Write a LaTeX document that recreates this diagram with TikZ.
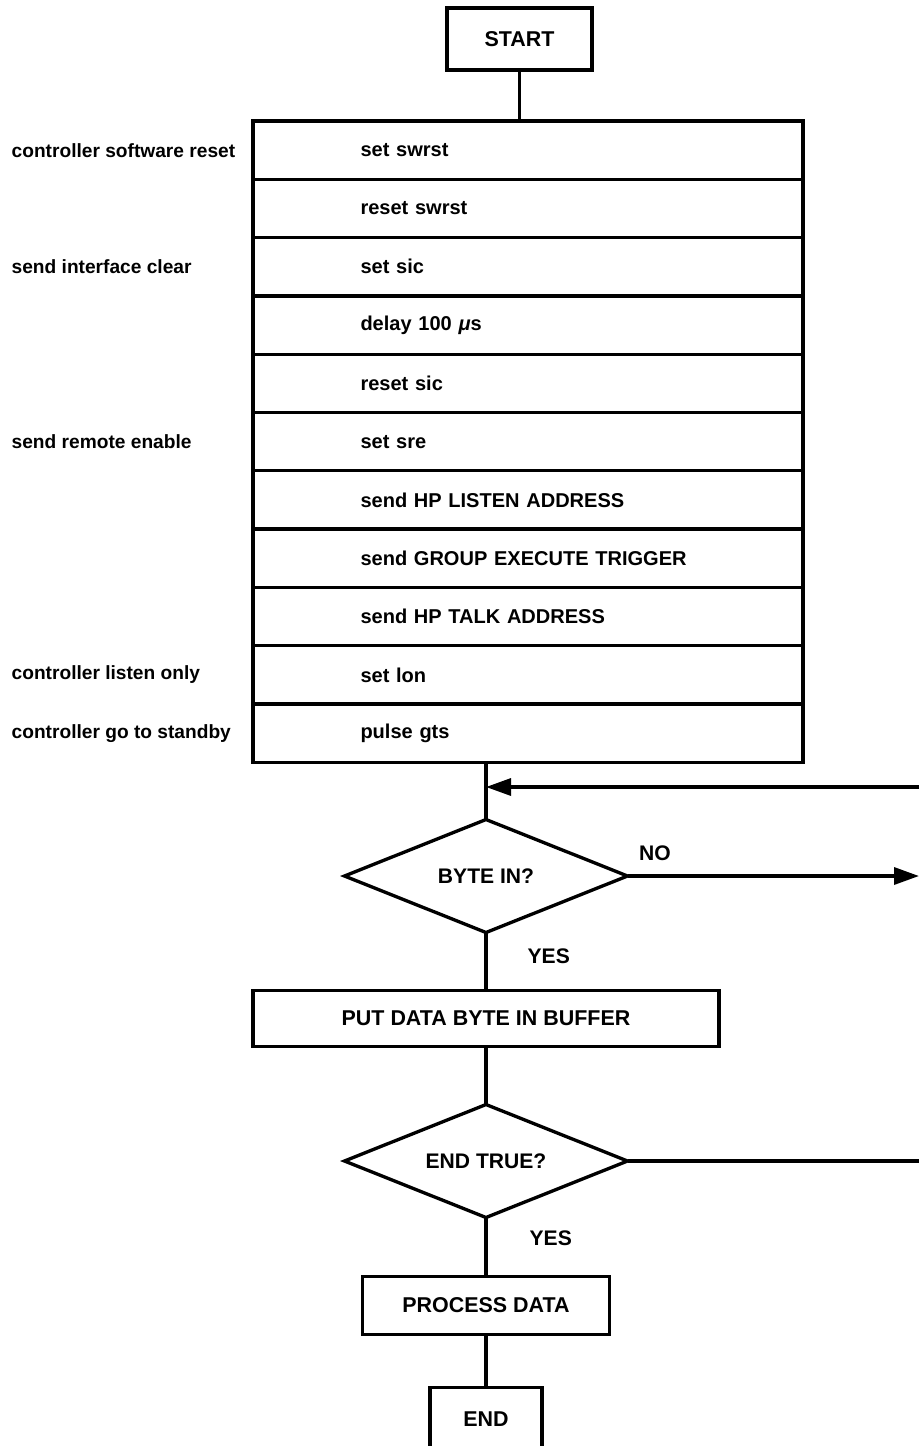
\documentclass[tikz,border=0pt]{standalone}
\usepackage{fontspec}
\setmainfont{Liberation Sans}
\usetikzlibrary{shapes.geometric,positioning,arrows.meta}
\tikzset{
    stepbox/.style={
        draw,rectangle,outer sep=0pt,minimum width=11cm,minimum height=1.166cm,text width=6.7cm,align=left
    },
    notetext/.style={
        anchor=west,inner sep=0pt,font=\fontsize{10.9}{13}\selectfont\bfseries
    },
    flowbox/.style={
        draw,rectangle,outer sep=0pt,minimum height=1.16cm,font=\fontsize{12.2}{14}\selectfont\bfseries
    },
    decision/.style={
        draw,diamond,shape aspect=2.5,outer sep=0pt,inner sep=0pt,minimum width=5.66cm,minimum height=2.26cm,
        font=\fontsize{12}{14}\selectfont\bfseries
    },
    answer/.style={
        inner sep=0pt,font=\fontsize{12}{14}\selectfont\bfseries
    }
}

\begin{document}
\begin{tikzpicture}[line width=1.9pt, >={Triangle[length=5mm,width=3.4mm]},
    font=\fontsize{11.4}{14}\selectfont\bfseries]
\useasboundingbox (0,0) rectangle (18.38,-28.92);
\node[flowbox,minimum width=2.9cm,minimum height=1.24cm] (start) at (10.39,-0.78) {START};

\node[stepbox] (r1) at (10.56,-3.003) {set swrst};
\node[stepbox,below=0pt of r1] (r2) {reset swrst};
\node[stepbox,below=0pt of r2] (r3) {set sic};
\node[stepbox,below=0pt of r3] (r4) {delay 100 {\itshape μ}s};
\node[stepbox,below=0pt of r4] (r5) {reset sic};
\node[stepbox,below=0pt of r5] (r6) {set sre};
\node[stepbox,below=0pt of r6] (r7) {send HP LISTEN ADDRESS};
\node[stepbox,below=0pt of r7] (r8) {send GROUP EXECUTE TRIGGER};
\node[stepbox,below=0pt of r8] (r9) {send HP TALK ADDRESS};
\node[stepbox,below=0pt of r9] (r10) {set lon};
\node[stepbox,below=0pt of r10] (r11) {pulse gts};

\node[notetext] (n1) at ([xshift=-4.86cm]r1.west) {controller software reset};
\node[notetext] (n3) at ([xshift=-4.86cm]r3.west) {send interface clear};
\node[notetext] (n6) at ([xshift=-4.86cm]r6.west) {send remote enable};
\node[notetext] (n10) at ([xshift=-4.86cm]r10.west) {controller listen only};
\node[notetext] (n11) at ([xshift=-4.86cm]r11.west) {controller go to standby};

\node[decision] (d1) at (9.72,-17.52) {BYTE IN?};
\node[flowbox,minimum width=9.32cm,minimum height=1.12cm,below=1.16cm of d1] (buf) {PUT DATA BYTE IN BUFFER};
\node[decision,below=1.16cm of buf] (d2) {END TRUE?};
\node[flowbox,minimum width=4.94cm,below=1.18cm of d2] (proc) {PROCESS DATA};
\node[flowbox,minimum width=2.24cm,minimum height=1.28cm,below=1.06cm of proc] (stop) {END};

\node[answer,above right=0.28cm and 0.2cm of d1.east] (no1) {NO};
\node[answer,below right=0.3cm and 0.8cm of d1.south] (yes1) {YES};
\node[answer,below right=0.24cm and 0.84cm of d2.south] (yes2) {YES};

\coordinate (loopin) at (18.38,-15.74);
\coordinate (noout) at (18.38,-17.52);
\coordinate (endout) at (18.38,-23.22);

\draw (start.south) -- (start.south |- r1.north);
\draw (d1.north |- r11.south) -- (d1.north);
\draw[->] (loopin) -- (loopin -| d1.north);
\draw[->] (d1.east) -- (noout);
\draw (d1.south) -- (buf.north -| d1.south);
\draw (buf.south -| d2.north) -- (d2.north);
\draw (d2.east) -- (endout |- d2.east);
\draw (d2.south) -- (proc.north -| d2.south);
\draw (proc.south -| stop.north) -- (stop.north);
\end{tikzpicture}
\end{document}
